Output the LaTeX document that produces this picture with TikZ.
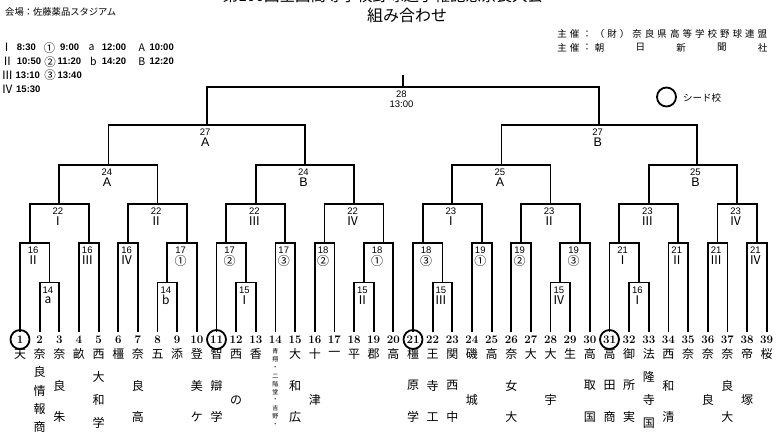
\documentclass[tikz,border=0pt]{standalone}
\usepackage{fontspec}
\usetikzlibrary{calc}
\newfontfamily\jp{Noto Sans CJK JP}
\newfontfamily\ls{Liberation Sans}
\tikzset{
  br/.style={line width=1.8pt},
  lab/.style={font=\ls\fontsize{9.5}{9.5}\selectfont, inner sep=0pt},
  rom/.style={font=\jp\fontsize{12}{12}\selectfont, inner sep=0pt},
  big/.style={font=\ls\fontsize{12.5}{12.5}\selectfont, inner sep=0pt},
  num/.style={font=\fontsize{11.5}{11.5}\selectfont\bfseries, inner sep=0pt},
  nm/.style={font=\jp\fontsize{12}{12}\selectfont, inner sep=0pt},
  tinyt/.style={font=\jp\fontsize{6}{6}\selectfont, inner sep=0pt},
  tim/.style={font=\ls\bfseries\fontsize{9.5}{9.5}\selectfont, inner sep=0pt, anchor=west},
  leg/.style={font=\jp\fontsize{11.5}{11.5}\selectfont, inner sep=0pt},
  legl/.style={font=\jp\fontsize{10.5}{10.5}\selectfont, inner sep=0pt},
  hdr/.style={font=\jp\fontsize{9.5}{9.5}\selectfont, inner sep=0pt},
  seed/.style={circle, draw, line width=1.8pt, minimum size=19pt, inner sep=0pt},
}
% name, left, right, y, connect fraction, top label, bottom label, bottom style, label fraction
\newcommand\bmatch[9]{%
  \coordinate (c#1) at ($(#2)!#9!(#3)$);
  \coordinate (k#1) at ($(#2)!#5!(#3)$);
  \coordinate (#1) at (k#1 |- 0,#4);
  \coordinate (p#1) at (c#1 |- 0,#4);
  \draw[br] (#2) |- (#1) -| (#3);
  \node[lab] (la#1) at ([shift={(-1.5,7.3)}]p#1) {#6};
  \node[#8] (lb#1) at ([shift={(-1.5,17.5)}]p#1) {#7};
}
\newcommand\tname[2]{\foreach \mych/\myy [count=\k] in {#2} {\node[nm] (s#1x\k) at (t#1 |- 0,\myy) {\mych};}}
\begin{document}
\begin{tikzpicture}[x=1pt,y=-1pt]
\useasboundingbox (0,0) rectangle (777,437);
\fill[white] (0,0) rectangle (777,437);
\clip (0,0) rectangle (777,437);

% header
\node[font=\jp\fontsize{15.5}{15.5}\selectfont, inner sep=0pt] (title) at (383,-4) {第100回全国高等学校野球選手権記念奈良大会};
\node[font=\jp\fontsize{16}{16}\selectfont, inner sep=0pt] (sub) at (407,15.5) {組み合わせ};
\node[font=\jp\fontsize{9.3}{9.3}\selectfont, inner sep=0pt, anchor=west] (venue) at (5,11.5) {会場：佐藤薬品スタジアム};
\foreach \mych [count=\k] in {主,催,：,（,財,）,奈,良,県,高,等,学,校,野,球,連,盟}
  {\node[hdr] (ha\k) at ({562+(\k-1)*12.53},34) {\mych};}
\foreach \mych/\myx [count=\k] in {主/562,催/574.5,：/587,朝/599.6,日/640.3,新/681,聞/721.8,社/762.5}
  {\node[hdr] (hb\k) at (\myx,47.5) {\mych};}

% time legend
\node[leg] (r1a) at (6.7,47.7) {Ⅰ};
\node[tim] (r1b) at (16.7,47.7) {8:30};
\node[leg] (r1c) at (49.3,47.7) {①};
\node[tim] (r1d) at (60,47.7) {9:00};
\node[legl] (r1e) at (91.7,47.2) {a};
\node[tim] (r1f) at (101.7,47.7) {12:00};
\node[legl] (r1g) at (141.7,47.7) {A};
\node[tim] (r1h) at (149.3,47.7) {10:00};
\node[leg] (r2a) at (7.3,61.7) {Ⅱ};
\node[tim] (r2b) at (16.7,61.7) {10:50};
\node[leg] (r2c) at (50,61.7) {②};
\node[tim] (r2d) at (57.3,61.7) {11:20};
\node[legl] (r2e) at (93.3,61.2) {b};
\node[tim] (r2f) at (101.7,61.7) {14:20};
\node[legl] (r2g) at (141.7,61.7) {B};
\node[tim] (r2h) at (149.3,61.7) {12:20};
\node[leg] (r3a) at (7.3,75) {Ⅲ};
\node[tim] (r3b) at (15.5,75) {13:10};
\node[leg] (r3c) at (50,75) {③};
\node[tim] (r3d) at (57.3,75) {13:40};
\node[leg] (r4a) at (7.3,89.3) {Ⅳ};
\node[tim] (r4b) at (16,89.3) {15:30};

% seed legend
\node[seed] (sdl) at (666.5,97) {};
\node[hdr, anchor=west] (sdt) at (683,97.5) {シード校};

% teams
\foreach \i in {1,...,39} {\coordinate (t\i) at ({20+(\i-1)*19.65},332);}
\foreach \i in {1,...,39} {\node[num] (n\i) at (t\i |- 0,339.5) {\i};}
\foreach \i in {1,11,21,31} {\node[seed] (sd\i) at (n\i.center) {};}

% bracket
\bmatch{m14a}{t2}{t3}{282.5}{0.5}{14}{a}{rom}{0.5}
\bmatch{m14b}{t8}{t9}{282.5}{0.5}{14}{b}{rom}{0.5}
\bmatch{m15a}{t12}{t13}{282.5}{0.5}{15}{Ⅰ}{rom}{0.5}
\bmatch{m15b}{t18}{t19}{282.5}{0.5}{15}{Ⅱ}{rom}{0.5}
\bmatch{m15c}{t22}{t23}{282.5}{0.5}{15}{Ⅲ}{rom}{0.5}
\bmatch{m15d}{t28}{t29}{282.5}{0.5}{15}{Ⅳ}{rom}{0.5}
\bmatch{m16a}{t32}{t33}{282.5}{0.5}{16}{Ⅰ}{rom}{0.5}
\bmatch{m16b}{t1}{m14a}{243}{0.333}{16}{Ⅱ}{rom}{0.5}
\bmatch{m16c}{t4}{t5}{243}{0.5}{16}{Ⅲ}{rom}{0.5}
\bmatch{m16d}{t6}{t7}{243}{0.5}{16}{Ⅳ}{rom}{0.5}
\bmatch{m17a}{m14b}{t10}{243}{0.667}{17}{①}{rom}{0.5}
\bmatch{m17b}{t11}{m15a}{243}{0.333}{17}{②}{rom}{0.5}
\bmatch{m17c}{t14}{t15}{243}{0.5}{17}{③}{rom}{0.5}
\bmatch{m18b}{t16}{t17}{243}{0.5}{18}{②}{rom}{0.5}
\bmatch{m18a}{m15b}{t20}{243}{0.667}{18}{①}{rom}{0.5}
\bmatch{m18c}{t21}{m15c}{243}{0.333}{18}{③}{rom}{0.5}
\bmatch{m19a}{t24}{t25}{243}{0.5}{19}{①}{rom}{0.5}
\bmatch{m19b}{t26}{t27}{243}{0.5}{19}{②}{rom}{0.5}
\bmatch{m19c}{m15d}{t30}{243}{0.667}{19}{③}{rom}{0.5}
\bmatch{m21a}{t31}{m16a}{243}{0.333}{21}{Ⅰ}{rom}{0.5}
\bmatch{m21b}{t34}{t35}{243}{0.5}{21}{Ⅱ}{rom}{0.5}
\bmatch{m21c}{t36}{t37}{243}{0.5}{21}{Ⅲ}{rom}{0.5}
\bmatch{m21d}{t38}{t39}{243}{0.5}{21}{Ⅳ}{rom}{0.5}
\bmatch{m22a}{m16b}{m16c}{204}{0.5}{22}{Ⅰ}{rom}{0.5}
\bmatch{m22b}{m16d}{m17a}{204}{0.5}{22}{Ⅱ}{rom}{0.5}
\bmatch{m22c}{m17b}{m17c}{204}{0.5}{22}{Ⅲ}{rom}{0.5}
\bmatch{m22d}{m18b}{m18a}{204}{0.5}{22}{Ⅳ}{rom}{0.5}
\bmatch{m23a}{m18c}{m19a}{204}{0.5}{23}{Ⅰ}{rom}{0.5}
\bmatch{m23b}{m19b}{m19c}{204}{0.5}{23}{Ⅱ}{rom}{0.5}
\bmatch{m23c}{m21a}{m21b}{204}{0.5}{23}{Ⅲ}{rom}{0.5}
\bmatch{m23d}{m21c}{m21d}{204}{0.5}{23}{Ⅳ}{rom}{0.5}
\bmatch{m24a}{m22a}{m22b}{165}{0.5}{24}{A}{big}{0.5}
\bmatch{m24b}{m22c}{m22d}{165}{0.5}{24}{B}{big}{0.5}
\bmatch{m25a}{m23a}{m23b}{165}{0.5}{25}{A}{big}{0.5}
\bmatch{m25b}{m23c}{m23d}{165}{0.545}{25}{B}{big}{0.545}
\bmatch{m27a}{m24a}{m24b}{125}{0.5}{27}{A}{big}{0.5}
\bmatch{m27b}{m25a}{m25b}{125}{0.5}{27}{B}{big}{0.5}
\bmatch{m28}{m27a}{m27b}{87}{0.5}{28}{13:00}{lab}{0.5}
\coordinate (m28top) at (m28 |- 0,75);
\draw[br] (m28) -- (m28top);

% school names
\tname{1}{天/354}
\tname{2}{奈/354,良/372,情/390.5,報/408.5,商/427}
\tname{3}{奈/354,良/385.5,朱/417}
\tname{4}{畝/354}
\tname{5}{西/354,大/377,和/400,学/423}
\tname{6}{橿/354}
\tname{7}{奈/354,良/385.5,高/417}
\tname{8}{五/354}
\tname{9}{添/354}
\tname{10}{登/354,美/385.5,ケ/417}
\tname{11}{智/354,辯/385.5,学/417}
\tname{12}{西/354,の/400}
\tname{13}{香/354}
\foreach \mych [count=\k] in {青,翔,・,二,階,堂,・,吉,野,・}
  {\node[tinyt] (s14x\k) at (t14 |- 0,{351.5+(\k-1)*8.15}) {\mych};}
\tname{15}{大/354,和/385.5,広/417}
\tname{16}{十/354,津/400}
\tname{17}{一/354}
\tname{18}{平/354}
\tname{19}{郡/354}
\tname{20}{高/354}
\tname{21}{橿/354,原/385.5,学/417}
\tname{22}{王/354,寺/385.5,工/417}
\tname{23}{関/354,西/385.5,中/417}
\tname{24}{磯/354,城/400}
\tname{25}{高/354}
\tname{26}{奈/354,女/385.5,大/417}
\tname{27}{大/354}
\tname{28}{大/354,宇/400}
\tname{29}{生/354}
\tname{30}{高/354,取/385.5,国/417}
\tname{31}{高/354,田/385.5,商/417}
\tname{32}{御/354,所/385.5,実/417}
\tname{33}{法/354,隆/377,寺/400,国/423}
\tname{34}{西/354,和/385.5,清/417}
\tname{35}{奈/354}
\tname{36}{奈/354,良/400}
\tname{37}{奈/354,良/385.5,大/417}
\tname{38}{帝/354,塚/400}
\tname{39}{桜/354}
\end{tikzpicture}
\end{document}
